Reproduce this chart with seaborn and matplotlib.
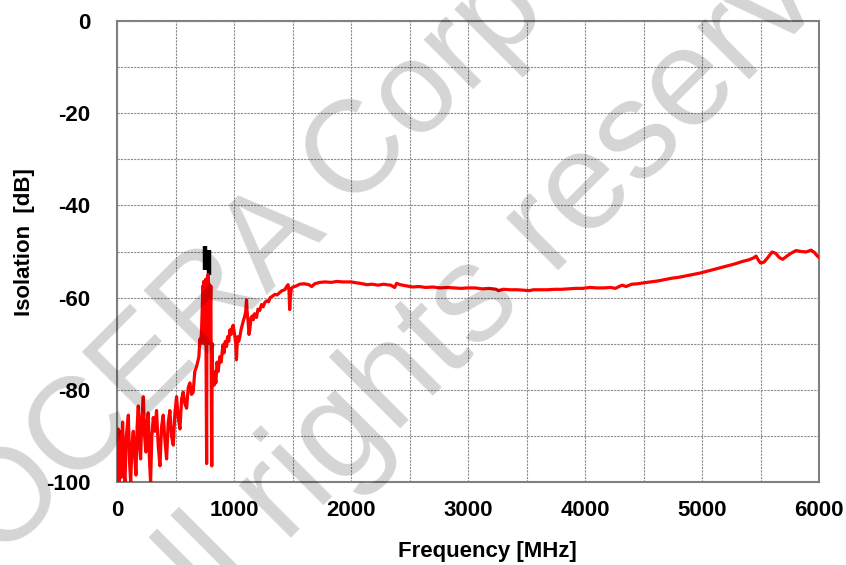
import numpy as np
import pandas as pd
import matplotlib
matplotlib.use("Agg")
import matplotlib.pyplot as plt
import seaborn as sns
from matplotlib.ticker import MultipleLocator

# ---- data ----
freq_mhz = [
    0, 10, 18, 26, 35, 48, 58, 68, 80, 97, 108, 117, 128, 139, 150, 162, 172, 182, 192, 202,
    212, 225, 236, 247, 257, 267, 277, 287, 298, 310, 324, 338, 352, 367, 381, 395, 410, 424,
    438, 452, 466, 481, 495, 509, 523, 538, 552, 566, 580, 595, 609, 623, 637, 651, 665, 680,
    694, 700, 708, 715, 722, 728, 733,
    738, 742, 746, 750, 754, 758, 762, 766, 770, 774, 778, 782, 786, 790, 794, 798, 802, 806,
    810, 814, 818, 824, 830, 836, 845, 855, 865, 879, 890, 900, 907, 915, 925, 936, 945, 955,
    965, 975, 985, 993, 1005, 1015, 1021, 1030, 1040, 1050, 1060, 1070, 1080, 1092, 1100, 1107,
    1112, 1120, 1128, 1135, 1145, 1155, 1165, 1175, 1192, 1205, 1220, 1235, 1249, 1265, 1280,
    1295, 1310, 1334, 1350, 1370, 1391, 1410, 1434, 1450, 1462, 1470, 1476, 1482, 1490, 1505,
    1530, 1562, 1600, 1640, 1664, 1690, 1733, 1780, 1830, 1880, 1930, 1963, 2000, 2050, 2100,
    2134, 2180, 2230, 2280, 2304, 2340, 2373, 2390, 2420, 2460, 2528, 2580, 2640, 2700, 2760,
    2820, 2880, 2940, 3000, 3060, 3120, 3180, 3240, 3260, 3300, 3360, 3420, 3480, 3520, 3560,
    3620, 3680, 3740, 3800, 3860, 3920, 3980, 4040, 4100, 4160, 4220, 4260, 4300, 4320, 4350,
    4400, 4450, 4500, 4560, 4620, 4680, 4740, 4800, 4860, 4920, 4980, 5040, 5100, 5160, 5220,
    5280, 5340, 5400, 5440, 5462, 5480, 5500, 5530, 5560, 5599, 5630, 5660, 5690, 5720, 5760,
    5803, 5850, 5889, 5932, 5960, 5983, 6000,
]
isolation_db = [
    -100, -88.5, -100, -89, -99, -87, -97, -100, -90, -85.5, -96, -100, -92, -89, -94, -98.5, -88, -83.5, -92, -95,
    -86, -81.5, -90, -93.5, -87, -85, -95, -100, -90, -86, -89, -84.5, -92, -96.5, -88, -85.5, -91, -95,
    -87, -84.5, -90, -92, -85, -81.5, -86, -88.5, -82, -80.5, -83, -84, -79.5, -78.5, -81, -80.5, -76, -75,
    -73.5, -72.8, -69, -70, -67.5, -63, -57.5,
    -62, -56.5, -70, -57, -66, -56, -75, -96, -56, -60, -55, -64, -57, -70, -58, -62, -57.5, -80,
    -96.5, -70, -78, -76, -79, -76.5, -78.5, -74, -76, -72.8, -74, -71.5, -70.2, -72, -69.5, -70.6, -68.5, -69.5,
    -67, -68, -66.5, -66, -68, -70, -73.5, -68.5, -69.5, -68.5, -67, -66, -65, -64, -63, -60.5,
    -63, -65, -68, -67, -64.5, -64, -64.8, -63.5, -64.3, -62.5, -62.8, -61.5, -62, -61, -60.7,
    -60.9, -60, -59.6, -59.3, -59.4, -58.9, -58.5, -58.3, -57.6, -57.2, -58.5, -62.6, -60, -58, -57.7,
    -57.5, -57.1, -57.0, -57.2, -57.6, -57.0, -56.7, -56.6, -56.7, -56.5, -56.6, -56.6, -56.6, -56.8, -57.0,
    -57.2, -57.1, -57.3, -57.1, -57.2, -57.3, -57.8, -56.9, -57.2, -57.4, -57.7, -57.6, -57.8, -57.7, -57.9,
    -57.8, -57.9, -58.0, -57.9, -57.9, -58.1, -58.0, -58.2, -58.5, -58.2, -58.3, -58.3, -58.4, -58.5, -58.3,
    -58.3, -58.3, -58.2, -58.2, -58.1, -58.0, -58.0, -57.8, -57.9, -57.9, -57.8, -58.0, -57.5, -57.3, -57.6,
    -57.1, -57.0, -56.8, -56.6, -56.4, -56.1, -55.8, -55.6, -55.3, -55.0, -54.7, -54.3, -53.9, -53.5, -53.1,
    -52.7, -52.2, -51.8, -51.4, -51.0, -51.8, -52.5, -52.3, -51.4, -50.1, -50.4, -51.3, -51.7, -51.1, -50.4,
    -49.8, -50.0, -50.1, -49.7, -50.2, -50.9, -51.3,
]
marker_freq = [750, 790]
marker_top = [-48.7, -49.7]
marker_bottom = [-54.1, -55.0]

x_ticks = [0, 1000, 2000, 3000, 4000, 5000, 6000]
y_ticks = [-100, -80, -60, -40, -20, 0]

watermark_lines = ["KYOCERA Corporation", "All rights reserved"]

df = pd.DataFrame({"Frequency [MHz]": freq_mhz, "Isolation [dB]": isolation_db})

sns.set_style("white")
plt.rcParams["font.family"] = ["Liberation Sans", "DejaVu Sans"]
plt.rcParams["axes.unicode_minus"] = False

fig = plt.figure(figsize=(8.46, 5.65), dpi=100)
ax = fig.add_axes([117 / 846, 1 - 482 / 565, (819 - 117) / 846, (482 - 21) / 565])

sns.lineplot(data=df, x="Frequency [MHz]", y="Isolation [dB]", ax=ax,
             color="#ff0000", lw=2.3, estimator=None, sort=False, zorder=3)
ax.vlines(marker_freq, marker_bottom, marker_top, colors="black", lw=3.2, zorder=2)

ax.set_xlim(0, 6000)
ax.set_ylim(-100, 0)
ax.set_xticks(x_ticks)
ax.set_yticks(y_ticks)
ax.xaxis.set_minor_locator(MultipleLocator(500))
ax.yaxis.set_minor_locator(MultipleLocator(10))
ax.grid(True, which="both", color="#8c8c8c", ls=(0, (2, 1)), lw=0.8, zorder=1)
ax.set_axisbelow(True)
ax.tick_params(axis="both", which="both", length=0, colors="black")
ax.tick_params(axis="y", pad=19)
ax.tick_params(axis="x", pad=13)
for lab in ax.get_xticklabels() + ax.get_yticklabels():
    lab.set_fontsize(16)
    lab.set_fontweight("bold")
    lab.set_color("black")
for sp in ax.spines.values():
    sp.set_color("#808080")
    sp.set_linewidth(1.5)

ax.set_xlabel("Frequency [MHz]", fontsize=16, fontweight="bold", color="black")
ax.set_ylabel("Isolation  [dB]", fontsize=16, fontweight="bold", color="black")
ax.xaxis.set_label_coords((487 - 117) / 702, -(541 - 482) / 461)
ax.yaxis.set_label_coords(-(117 - 35) / 702, (482 - 242) / 461)

# watermark
wm_pos = [(330, 184), (516, 262)]
wm_size = [94, 100]
for txt, (px, py), fs in zip(watermark_lines, wm_pos, wm_size):
    fig.text(px / 846, 1 - py / 565, txt, fontsize=fs, color="black", alpha=0.17,
             rotation=45, rotation_mode="anchor", ha="center", va="center",
             zorder=10)

fig.savefig("out.png", dpi=100)
